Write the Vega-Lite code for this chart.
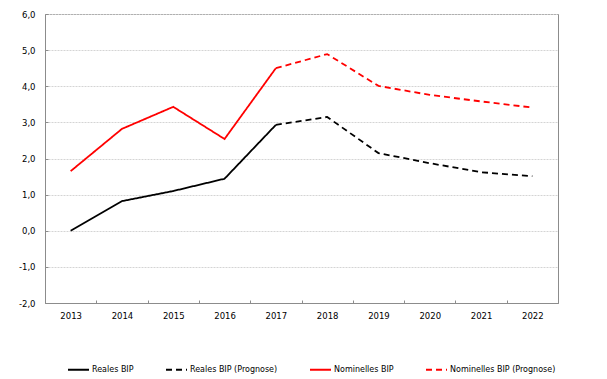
{
  "$schema": "https://vega.github.io/schema/vega-lite/v6.json",
  "width": 513,
  "height": 289,
  "autosize": {"type": "none"},
  "padding": {"left": 45, "top": 14, "right": 49, "bottom": 76},
  "background": "white",
  "config": {
    "font": "DejaVu Sans",
    "view": {"stroke": "#8c8c8c", "strokeWidth": 1},
    "axis": {"labelFont": "DejaVu Sans", "labelFontSize": 8.5, "labelColor": "#000", "domainColor": "#8c8c8c", "tickColor": "#8c8c8c", "title": null}
  },
  "data": {
    "values": [
      {"year": "2013", "value": 0.0, "series": "Reales BIP"},
      {"year": "2014", "value": 0.82, "series": "Reales BIP"},
      {"year": "2015", "value": 1.1, "series": "Reales BIP"},
      {"year": "2016", "value": 1.44, "series": "Reales BIP"},
      {"year": "2017", "value": 2.93, "series": "Reales BIP"},
      {"year": "2017", "value": 2.93, "series": "Reales BIP (Prognose)"},
      {"year": "2018", "value": 3.15, "series": "Reales BIP (Prognose)"},
      {"year": "2019", "value": 2.15, "series": "Reales BIP (Prognose)"},
      {"year": "2020", "value": 1.87, "series": "Reales BIP (Prognose)"},
      {"year": "2021", "value": 1.62, "series": "Reales BIP (Prognose)"},
      {"year": "2022", "value": 1.51, "series": "Reales BIP (Prognose)"},
      {"year": "2013", "value": 1.65, "series": "Nominelles BIP"},
      {"year": "2014", "value": 2.82, "series": "Nominelles BIP"},
      {"year": "2015", "value": 3.43, "series": "Nominelles BIP"},
      {"year": "2016", "value": 2.54, "series": "Nominelles BIP"},
      {"year": "2017", "value": 4.5, "series": "Nominelles BIP"},
      {"year": "2017", "value": 4.5, "series": "Nominelles BIP (Prognose)"},
      {"year": "2018", "value": 4.89, "series": "Nominelles BIP (Prognose)"},
      {"year": "2019", "value": 4.01, "series": "Nominelles BIP (Prognose)"},
      {"year": "2020", "value": 3.76, "series": "Nominelles BIP (Prognose)"},
      {"year": "2021", "value": 3.58, "series": "Nominelles BIP (Prognose)"},
      {"year": "2022", "value": 3.41, "series": "Nominelles BIP (Prognose)"}
    ]
  },
  "mark": {"type": "line", "strokeWidth": 1.8},
  "encoding": {
    "x": {
      "field": "year", "type": "ordinal",
      "scale": {"type": "band", "paddingInner": 0, "paddingOuter": 0},
      "axis": {"labelAngle": 0, "tickBand": "extent", "tickSize": -3, "labelPadding": 11, "grid": false, "ticks": true}
    },
    "y": {
      "field": "value", "type": "quantitative",
      "scale": {"domain": [-2, 6], "nice": false, "zero": false},
      "axis": {
        "values": [-2, -1, 0, 1, 2, 3, 4, 5, 6],
        "labelExpr": "replace(replace(format(datum.value, '.1f'), '.', ','), '\u2212', '-')",
        "grid": true, "gridColor": "#d4d4d4", "gridDash": [2, 1], "gridWidth": 1,
        "tickSize": -3, "labelPadding": 13
      }
    },
    "color": {
      "field": "series", "type": "nominal",
      "scale": {"domain": ["Reales BIP", "Reales BIP (Prognose)", "Nominelles BIP", "Nominelles BIP (Prognose)"], "range": ["#000000", "#000000", "#ff0000", "#ff0000"]},
      "legend": {
        "title": null, "orient": "none", "direction": "horizontal", "legendX": 22, "legendY": 344,
        "symbolType": "stroke", "symbolSize": 441, "symbolStrokeWidth": 2,
        "labelFontSize": 8, "labelFont": "DejaVu Sans", "labelColor": "#000", "labelOffset": 2, "columnPadding": 28
      }
    },
    "strokeDash": {
      "field": "series", "type": "nominal",
      "scale": {"domain": ["Reales BIP", "Reales BIP (Prognose)", "Nominelles BIP", "Nominelles BIP (Prognose)"], "range": [[1, 0], [6, 4], [1, 0], [6, 4]]},
      "legend": {
        "title": null, "orient": "none", "direction": "horizontal", "legendX": 22, "legendY": 344,
        "symbolType": "stroke", "symbolSize": 441, "symbolStrokeWidth": 2,
        "labelFontSize": 8, "labelFont": "DejaVu Sans", "labelColor": "#000", "labelOffset": 2, "columnPadding": 28
      }
    }
  }
}
